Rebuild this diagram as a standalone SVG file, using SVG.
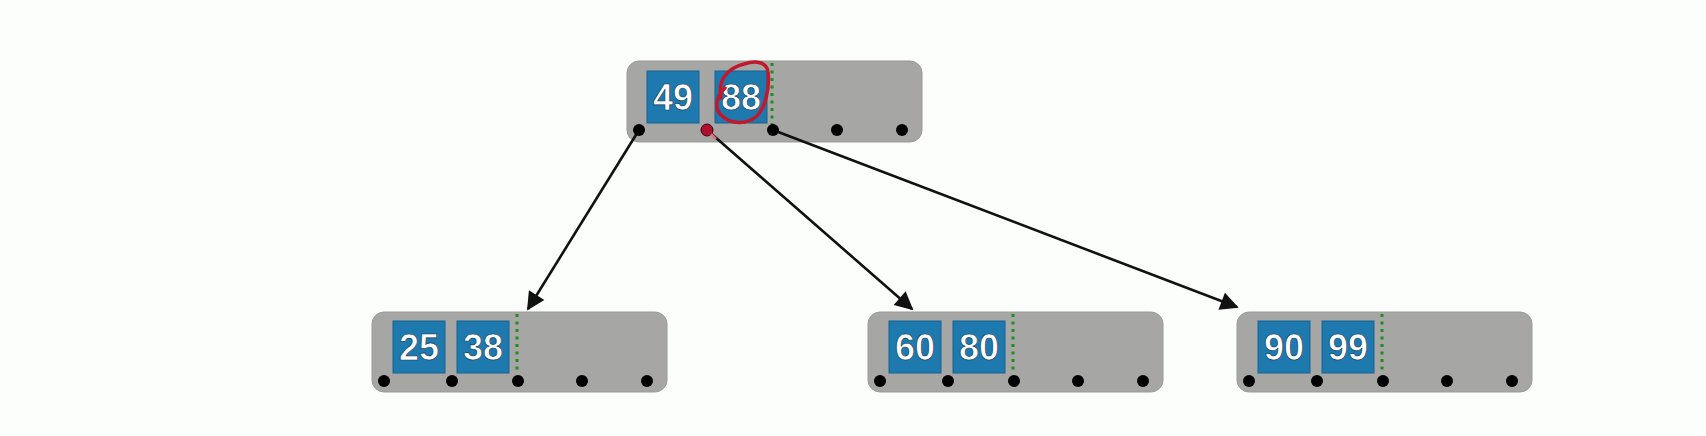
<svg xmlns="http://www.w3.org/2000/svg" width="1706" height="436" viewBox="0 0 1706 436">
<defs>
<style>
.node{fill:#a6a6a4;stroke:#9a9a98;stroke-width:1}
.key{fill:#1e79ae;stroke:#17628f;stroke-width:1}
.kt{font-family:"Liberation Sans",Arial,sans-serif;font-weight:bold;font-size:36px;fill:#ffffff;text-anchor:middle;stroke:#0d3d5c;stroke-width:0.7}
.sep{stroke:#1c8f1c;stroke-width:3;stroke-dasharray:3 4.5}
.ptr{fill:#000000}
.edge{stroke:#111111;stroke-width:2.6;fill:none}
</style>
<marker id="ah" viewBox="0 0 10 10" refX="9" refY="5" markerWidth="7.5" markerHeight="7" orient="auto" markerUnits="strokeWidth">
<path d="M0,0 L10,5 L0,10 z" fill="#111111"/>
</marker>
</defs>
<rect width="1706" height="436" fill="#fcfefc"/>
<g id="root">
<rect class="node" x="627" y="61" width="295" height="81" rx="12"/>
<rect class="key" x="647" y="71" width="52" height="52"/>
<text class="kt" x="673" y="110">49</text>
<rect class="key" x="715" y="71" width="52" height="52"/>
<text class="kt" x="741" y="110">88</text>
<line class="sep" x1="772" y1="63" x2="772" y2="125"/>
</g>
<g id="leaf1">
<rect class="node" x="372" y="312" width="295" height="80" rx="12"/>
<rect class="key" x="393" y="321" width="52" height="52"/>
<text class="kt" x="419" y="360">25</text>
<rect class="key" x="457" y="321" width="52" height="52"/>
<text class="kt" x="483" y="360">38</text>
<line class="sep" x1="517" y1="314" x2="517" y2="373"/>
<circle class="ptr" cx="384" cy="381" r="6"/>
<circle class="ptr" cx="452" cy="381" r="6"/>
<circle class="ptr" cx="518" cy="381" r="6"/>
<circle class="ptr" cx="582" cy="381" r="6"/>
<circle class="ptr" cx="647" cy="381" r="6"/>
</g>
<g id="leaf2">
<rect class="node" x="868" y="312" width="295" height="80" rx="12"/>
<rect class="key" x="889" y="321" width="52" height="52"/>
<text class="kt" x="915" y="360">60</text>
<rect class="key" x="953" y="321" width="52" height="52"/>
<text class="kt" x="979" y="360">80</text>
<line class="sep" x1="1013" y1="314" x2="1013" y2="373"/>
<circle class="ptr" cx="880" cy="381" r="6"/>
<circle class="ptr" cx="948" cy="381" r="6"/>
<circle class="ptr" cx="1014" cy="381" r="6"/>
<circle class="ptr" cx="1078" cy="381" r="6"/>
<circle class="ptr" cx="1143" cy="381" r="6"/>
</g>
<g id="leaf3">
<rect class="node" x="1237" y="312" width="295" height="80" rx="12"/>
<rect class="key" x="1258" y="321" width="52" height="52"/>
<text class="kt" x="1284" y="360">90</text>
<rect class="key" x="1322" y="321" width="52" height="52"/>
<text class="kt" x="1348" y="360">99</text>
<line class="sep" x1="1382" y1="314" x2="1382" y2="373"/>
<circle class="ptr" cx="1249" cy="381" r="6"/>
<circle class="ptr" cx="1317" cy="381" r="6"/>
<circle class="ptr" cx="1383" cy="381" r="6"/>
<circle class="ptr" cx="1447" cy="381" r="6"/>
<circle class="ptr" cx="1512" cy="381" r="6"/>
</g>
<g id="connectors">
<line class="edge" x1="639" y1="130" x2="528" y2="309" marker-end="url(#ah)"/>
<line class="edge" x1="707" y1="130" x2="912" y2="309" marker-end="url(#ah)"/>
<line class="edge" x1="773" y1="130" x2="1237" y2="307" marker-end="url(#ah)"/>
</g>
<g id="root-pointers">
<circle class="ptr" cx="639" cy="130" r="6"/>
<circle cx="707" cy="130" r="6" fill="#b0102e" stroke="#3a0010" stroke-width="1"/>
<circle class="ptr" cx="773" cy="130" r="6"/>
<circle class="ptr" cx="837" cy="130" r="6"/>
<circle class="ptr" cx="902" cy="130" r="6"/>
<path d="M711,134 L716,139" stroke="#e07080" stroke-width="2.5" fill="none"/>
<path d="M721,98 C717,80 728,68 744,64 C756,60 767,62 768,72 C770,88 765,108 757,116 C747,125 730,125 720,114 C714,107 717,96 725,88" stroke="#c3182c" stroke-width="3.5" fill="none" stroke-linecap="round"/>
</g>
</svg>
